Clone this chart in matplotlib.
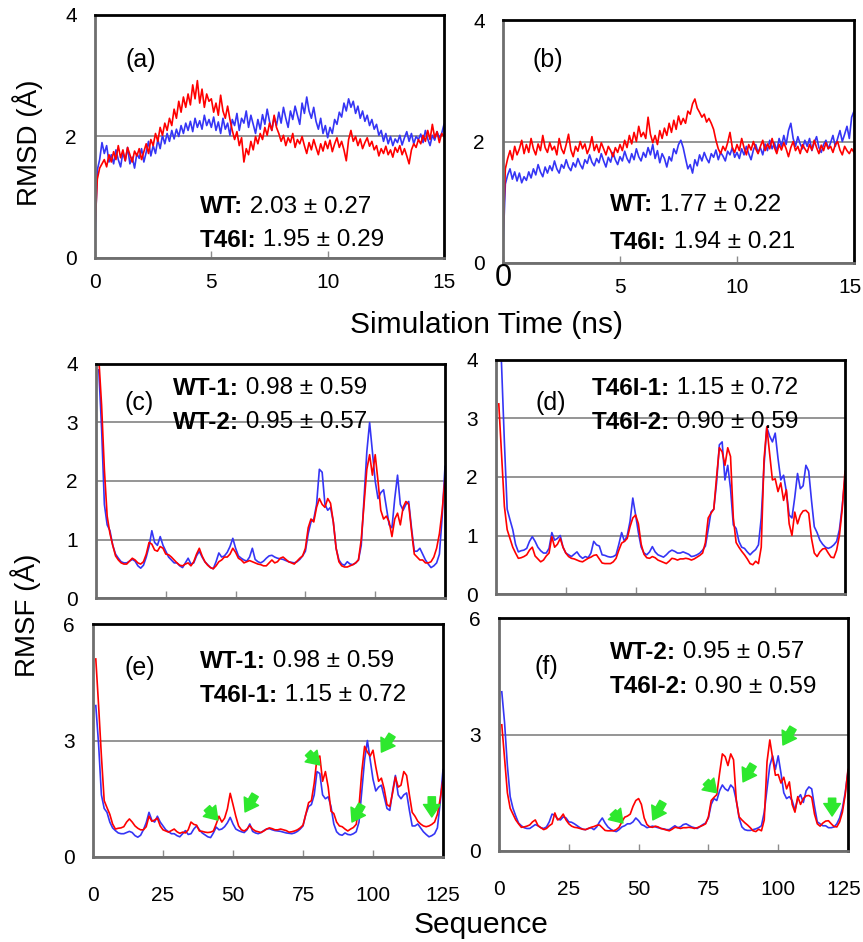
#!/usr/bin/env python3
"""RMSD / RMSF comparison of WT and T46I: six-panel figure."""

import numpy as np
import matplotlib

matplotlib.use("Agg")
import matplotlib.pyplot as plt
from matplotlib.transforms import offset_copy

plt.rcParams["font.family"] = ["Liberation Sans", "DejaVu Sans"]

BLUE = "#3535f5"
RED = "#ff0000"
GREEN = "#2ee82e"
GRID = "#8c8c8c"

# ---------------------------------------------------------------- RMSD data
# sampled every 0.1 ns, 0 .. 15 ns
time_ns = np.arange(151) * 0.1

rmsd_a_wt = [
    0.30, 1.45, 1.62, 1.90, 1.72, 1.85, 1.58, 1.70, 1.55, 1.78,
    1.62, 1.50, 1.74, 1.60, 1.82, 1.55, 1.66, 1.48, 1.72, 1.64,
    1.80, 1.58, 1.74, 1.92, 1.68, 1.85, 1.72, 1.95, 1.80, 2.02,
    1.88, 2.05, 1.92, 2.10, 1.96, 2.12, 2.00, 2.18, 2.05, 2.22,
    2.10, 2.25, 2.08, 2.30, 2.15, 2.26, 2.12, 2.35, 2.18, 2.28,
    2.15, 2.32, 2.10, 2.24, 2.05, 2.30, 2.12, 2.22, 2.02, 2.28,
    2.18, 2.38, 2.10, 2.30, 2.22, 2.42, 2.15, 2.35, 2.20, 2.05,
    2.28, 2.12, 2.36, 2.20, 2.45, 2.25, 2.10, 2.32, 2.18, 2.40,
    2.22, 2.48, 2.30, 2.15, 2.42, 2.28, 2.50, 2.35, 2.20, 2.55,
    2.38, 2.65, 2.42, 2.30, 2.48, 2.25, 2.12, 2.30, 2.05, 2.18,
    1.98, 2.15, 2.05, 2.28, 2.20, 2.40, 2.32, 2.55, 2.42, 2.62,
    2.48, 2.58, 2.38, 2.50, 2.30, 2.42, 2.25, 2.35, 2.18, 2.28,
    2.12, 2.20, 2.02, 2.10, 1.92, 2.05, 1.88, 2.00, 1.85, 1.96,
    1.90, 2.02, 1.86, 1.98, 2.08, 1.92, 2.05, 1.88, 2.00, 1.95,
    2.04, 1.90, 2.10, 1.96, 1.85, 2.02, 1.94, 2.08, 1.98, 2.05,
    2.20,
]
rmsd_a_t46i = [
    0.50, 1.30, 1.48, 1.55, 1.62, 1.50, 1.70, 1.58, 1.75, 1.62,
    1.85, 1.65, 1.78, 1.60, 1.82, 1.70, 1.58, 1.76, 1.68, 1.80,
    1.62, 1.75, 1.88, 1.72, 1.95, 1.85, 2.05, 1.92, 2.15, 2.02,
    2.22, 2.10, 2.30, 2.18, 2.45, 2.30, 2.58, 2.40, 2.65, 2.48,
    2.70, 2.52, 2.85, 2.62, 2.92, 2.55, 2.78, 2.48, 2.70, 2.58,
    2.62, 2.40, 2.55, 2.35, 2.68, 2.42, 2.30, 2.50, 2.28, 2.10,
    1.95, 2.08, 1.85, 1.98, 1.58, 1.80, 1.70, 1.92, 1.78, 2.00,
    1.88, 2.05, 1.95, 2.15, 2.02, 2.22, 2.10, 2.35, 2.15, 2.05,
    1.92, 2.02, 1.85, 1.98, 1.90, 2.05, 1.82, 1.95, 1.88, 2.00,
    1.85, 1.72, 1.90, 1.78, 1.95, 1.82, 1.70, 1.88, 1.76, 1.92,
    1.80, 1.94, 1.75, 1.88, 1.98, 1.82, 1.92, 1.78, 1.60, 1.95,
    2.10, 1.92, 2.00, 1.85, 1.96, 1.80, 1.90, 1.98, 1.84, 1.92,
    1.78, 1.85, 1.68, 1.80, 1.72, 1.84, 1.70, 1.78, 1.66, 1.82,
    1.74, 1.85, 1.70, 1.80, 1.68, 1.55, 1.78, 1.88, 1.82, 1.95,
    1.88, 2.02, 1.92, 2.10, 1.95, 2.20, 1.98, 2.08, 1.90, 2.05,
    2.00,
]
rmsd_b_wt = [
    0.25, 1.30, 1.45, 1.55, 1.38, 1.50, 1.35, 1.48, 1.32, 1.42,
    1.36, 1.50, 1.40, 1.55, 1.45, 1.62, 1.50, 1.42, 1.58, 1.48,
    1.60, 1.52, 1.68, 1.55, 1.48, 1.62, 1.56, 1.70, 1.58, 1.52,
    1.65, 1.58, 1.72, 1.62, 1.55, 1.70, 1.64, 1.78, 1.66, 1.60,
    1.72, 1.65, 1.80, 1.68, 1.58, 1.74, 1.66, 1.82, 1.70, 1.62,
    1.75, 1.68, 1.84, 1.72, 1.65, 1.80, 1.70, 1.88, 1.75, 1.68,
    1.82, 1.74, 1.90, 1.78, 1.95, 1.72, 1.85, 1.65, 1.80, 1.72,
    1.58, 1.75, 1.68, 1.88, 1.80, 1.95, 2.02, 1.90, 1.72, 1.55,
    1.62, 1.48, 1.70, 1.60, 1.78, 1.68, 1.82, 1.72, 1.65, 1.80,
    1.74, 1.86, 1.70, 1.82, 1.76, 1.68, 1.84, 1.78, 1.90, 1.74,
    1.82, 1.72, 1.88, 1.78, 1.92, 1.80, 1.70, 1.86, 1.95, 1.82,
    1.90, 1.78, 1.96, 1.85, 2.02, 1.88, 1.98, 1.84, 2.05, 1.92,
    2.10, 1.95, 2.18, 2.30, 2.05, 1.92, 2.08, 1.96, 1.88, 2.02,
    1.92, 2.05, 1.85, 1.98, 2.08, 1.90, 1.82, 1.95, 2.02, 1.88,
    1.98, 2.10, 1.92, 2.05, 2.18, 2.00, 2.12, 2.25, 2.05, 2.40,
    2.50,
]
rmsd_b_t46i = [
    0.45, 1.55, 1.72, 1.85, 1.70, 1.92, 1.78, 1.88, 2.02, 1.80,
    1.95, 1.82, 2.05, 1.88, 1.78, 1.96, 1.85, 2.10, 1.90, 1.82,
    1.98, 1.86, 1.92, 1.78, 2.05, 1.88, 1.80, 1.95, 2.12, 1.86,
    1.75, 1.92, 1.84, 2.00, 1.88, 1.96, 1.80, 1.90, 2.08, 1.85,
    1.95, 1.82, 1.98, 1.88, 1.78, 1.92, 1.85, 1.75, 1.90, 1.82,
    1.95, 1.85, 2.02, 1.90, 2.10, 1.96, 2.15, 2.00, 2.25, 2.08,
    2.15, 2.05, 2.40, 2.12, 1.98, 2.10, 1.95, 2.18, 2.05, 2.22,
    2.10, 2.30, 2.15, 2.35, 2.20, 2.42, 2.28, 2.38, 2.30, 2.50,
    2.45, 2.62, 2.70, 2.55, 2.48, 2.40, 2.45, 2.32, 2.38, 2.30,
    2.20, 2.02, 1.88, 1.80, 1.92, 1.85, 1.98, 2.15, 1.90, 1.82,
    1.95, 1.85, 2.05, 1.90, 1.78, 1.95, 1.86, 2.00, 1.88, 1.80,
    1.92, 2.02, 1.85, 1.96, 1.88, 2.05, 1.90, 1.80, 1.95, 1.86,
    1.98, 1.88, 1.75, 1.90, 2.00, 1.85, 1.92, 1.80, 1.95, 1.88,
    1.82, 1.95, 1.86, 2.02, 1.90, 1.80, 1.94, 1.85, 1.98, 1.88,
    1.92, 1.82, 1.95, 2.00, 1.86, 1.78, 1.92, 1.85, 1.80, 1.88,
    1.82,
]

# ---------------------------------------------------------------- RMSF data
residues = np.arange(1, 126)

rmsf_wt1 = [
    3.90, 2.90, 1.60, 1.25, 1.15, 0.90, 0.75, 0.68, 0.62, 0.60,
    0.60, 0.63, 0.66, 0.63, 0.55, 0.51, 0.56, 0.70, 0.88, 1.15,
    0.95, 0.90, 1.05, 0.90, 0.80, 0.70, 0.65, 0.60, 0.60, 0.55,
    0.52, 0.60, 0.68, 0.58, 0.60, 0.72, 0.80, 0.70, 0.62, 0.57,
    0.52, 0.50, 0.62, 0.77, 0.70, 0.72, 0.78, 0.88, 1.02, 0.85,
    0.72, 0.68, 0.65, 0.63, 0.70, 0.85, 0.66, 0.62, 0.60, 0.63,
    0.68, 0.72, 0.73, 0.70, 0.68, 0.67, 0.66, 0.64, 0.62, 0.61,
    0.60, 0.62, 0.66, 0.72, 0.80, 1.10, 1.30, 1.35, 1.60, 2.20,
    2.15, 1.60, 1.50, 1.55, 1.30, 0.85, 0.65, 0.58, 0.56, 0.62,
    0.58, 0.57, 0.60, 0.65, 0.90, 1.70, 2.50, 3.00, 2.50, 2.00,
    1.70, 1.80, 1.85, 1.55, 1.25, 1.20, 1.70, 2.10, 1.60, 1.50,
    1.60, 1.65, 1.20, 0.80, 0.80, 0.85, 0.75, 0.65, 0.58, 0.52,
    0.55, 0.60, 0.75, 1.40, 2.25,
]
rmsf_wt2 = [
    4.10, 3.30, 2.20, 1.40, 1.10, 0.90, 0.72, 0.65, 0.60, 0.58,
    0.58, 0.63, 0.68, 0.65, 0.60, 0.58, 0.62, 0.75, 0.95, 0.92,
    0.82, 0.80, 0.88, 0.85, 0.75, 0.74, 0.70, 0.65, 0.60, 0.56,
    0.55, 0.58, 0.60, 0.55, 0.62, 0.75, 0.85, 0.72, 0.62, 0.56,
    0.52, 0.50, 0.55, 0.62, 0.65, 0.70, 0.70, 0.75, 0.85, 0.78,
    0.68, 0.65, 0.60, 0.62, 0.64, 0.62, 0.60, 0.58, 0.57, 0.55,
    0.55, 0.60, 0.65, 0.60, 0.62, 0.68, 0.70, 0.66, 0.62, 0.60,
    0.58, 0.63, 0.68, 0.72, 0.85, 1.20, 1.35, 1.30, 1.55, 1.70,
    1.60, 1.55, 1.70, 1.62, 1.30, 0.85, 0.62, 0.55, 0.53, 0.53,
    0.55, 0.57, 0.60, 0.65, 1.00, 1.60, 2.20, 2.45, 2.10, 2.45,
    2.00, 1.50, 1.35, 1.40, 1.30, 1.05, 1.35, 1.45, 1.25, 1.55,
    1.65, 1.60, 1.15, 0.75, 0.70, 0.65, 0.65, 0.60, 0.60, 0.62,
    0.70, 0.85, 1.10, 1.50, 2.05,
]
rmsf_t46i1 = [
    5.10, 3.90, 2.60, 1.45, 1.27, 1.10, 0.85, 0.72, 0.74, 0.75,
    0.78, 0.90, 0.98, 0.90, 0.80, 0.74, 0.70, 0.70, 0.78, 1.05,
    0.92, 0.95, 1.00, 0.80, 0.70, 0.67, 0.64, 0.68, 0.72, 0.65,
    0.61, 0.64, 0.62, 0.70, 0.90, 0.84, 0.82, 0.67, 0.66, 0.64,
    0.63, 0.64, 0.67, 0.85, 1.05, 0.90, 1.00, 1.24, 1.64, 1.35,
    1.05, 0.80, 0.70, 0.67, 0.72, 0.81, 0.72, 0.67, 0.65, 0.63,
    0.67, 0.72, 0.75, 0.73, 0.70, 0.70, 0.72, 0.70, 0.68, 0.64,
    0.65, 0.67, 0.70, 0.75, 0.82, 1.10, 1.40, 1.45, 1.90, 2.55,
    2.60, 1.95, 2.20, 1.80, 1.18, 1.12, 0.90, 0.80, 0.78, 0.72,
    0.67, 0.72, 0.76, 0.84, 1.30, 2.20, 2.85, 2.70, 2.60, 2.75,
    2.32, 1.95, 2.03, 1.75, 1.35, 1.30, 1.65, 2.06, 1.80, 1.85,
    2.20, 2.10, 1.60, 1.15, 1.05, 0.92, 0.85, 0.80, 0.78, 0.80,
    0.84, 0.90, 1.10, 1.50, 2.00,
]
rmsf_t46i2 = [
    3.25, 2.38, 1.50, 1.10, 0.95, 0.80, 0.70, 0.61, 0.62, 0.64,
    0.67, 0.75, 0.80, 0.65, 0.60, 0.55, 0.58, 0.65, 0.70, 0.98,
    0.80, 0.85, 0.95, 0.80, 0.70, 0.64, 0.61, 0.60, 0.58, 0.56,
    0.55, 0.58, 0.61, 0.63, 0.66, 0.67, 0.60, 0.53, 0.52, 0.52,
    0.52, 0.55, 0.61, 0.75, 0.87, 0.90, 0.95, 1.15, 1.30, 1.35,
    1.20, 0.85, 0.68, 0.62, 0.61, 0.64, 0.62, 0.58, 0.56, 0.54,
    0.52, 0.56, 0.61, 0.60, 0.58, 0.60, 0.60, 0.61, 0.60, 0.58,
    0.60, 0.63, 0.66, 0.70, 0.88, 1.30, 1.38, 1.45, 2.00, 2.50,
    2.43, 2.20, 2.50, 2.35, 1.30, 0.88, 0.80, 0.73, 0.67, 0.60,
    0.52, 0.50, 0.56, 0.52, 0.80, 2.30, 2.86, 2.40, 1.95, 1.97,
    1.75, 1.90, 1.60, 1.78, 1.20, 1.00, 1.40, 1.20, 1.35, 1.42,
    1.43, 1.38, 0.95, 0.70, 0.64, 0.72, 0.77, 0.78, 0.70, 0.63,
    0.62, 0.75, 1.00, 1.45, 2.10,
]

# green arrows: (tail residue, tail value, tip residue, tip value)
arrows_e = [
    (40.7, 1.26, 44.6, 0.95),
    (57.9, 1.60, 54.3, 1.16),
    (76.8, 2.68, 81.0, 2.37),
    (96.0, 1.34, 92.5, 0.90),
    (106.8, 3.14, 103.0, 2.70),
    (121.0, 1.55, 121.0, 1.03),
]
arrows_f = [
    (40.8, 1.00, 44.4, 0.72),
    (58.7, 1.26, 55.1, 0.80),
    (74.1, 1.78, 78.0, 1.50),
    (91.0, 2.22, 87.4, 1.78),
    (105.3, 3.17, 101.7, 2.73),
    (119.3, 1.36, 119.3, 0.90),
]

FIG_W, FIG_H = 863, 942


def px_axes(fig, left, top, right, bottom):
    return fig.add_axes([left / FIG_W, 1 - bottom / FIG_H,
                         (right - left) / FIG_W, (bottom - top) / FIG_H])


def style(ax):
    ax.set_axisbelow(True)
    ax.yaxis.grid(True, color=GRID, linewidth=1.3)
    for side in ("top", "right"):
        ax.spines[side].set_color("black")
        ax.spines[side].set_linewidth(2.0)
    for side in ("left", "bottom"):
        ax.spines[side].set_color("#6e6e6e")
        ax.spines[side].set_linewidth(2.0)
    ax.tick_params(axis="y", length=0, pad=13, labelsize=15)
    ax.tick_params(axis="x", direction="in", length=5, width=1,
                   color="#8c8c8c", labelsize=15, pad=11)


def stat_text(ax, x, y, bold, rest):
    t = ax.text(x, y, bold, transform=ax.transAxes, fontsize=17.5,
                fontweight="bold", va="center", ha="left")
    ax.annotate(rest, xy=(1, 0.5), xycoords=t, fontsize=17.5,
                va="center", ha="left")


def nudge_last_xlabel(fig, ax, dx):
    last = ax.get_xticklabels()[-1]
    last.set_transform(offset_copy(last.get_transform(), fig=fig,
                                   x=dx, units="dots"))


def rmsd_panel(ax, wt, mut, tag, tag_xy, wt_txt, mut_txt, txt_xy):
    ax.plot(time_ns, wt, color=BLUE, linewidth=1.2)
    ax.plot(time_ns, mut, color=RED, linewidth=1.2)
    ax.set_xlim(0, 15)
    ax.set_ylim(0, 4)
    ax.set_xticks([0, 5, 10, 15])
    ax.set_yticks([0, 2, 4])
    style(ax)
    ax.text(*tag_xy, tag, transform=ax.transAxes, fontsize=18, va="center")
    stat_text(ax, txt_xy[0], txt_xy[1], "WT:", " " + wt_txt)
    stat_text(ax, txt_xy[0], txt_xy[2], "T46I:", " " + mut_txt)


def rmsf_panel(ax, s1, s2, ymax, yticks, tag, tag_xy, labels, txt_xy,
               show_x):
    ax.plot(residues, s1, color=BLUE, linewidth=1.2)
    ax.plot(residues, s2, color=RED, linewidth=1.2)
    ax.set_xlim(0, 125)
    ax.set_ylim(0, ymax)
    ax.set_yticks(yticks)
    style(ax)
    if show_x:
        ax.set_xticks([0, 25, 50, 75, 100, 125])
        ax.tick_params(axis="x", pad=21)
    else:
        ax.set_xticks([25, 50, 75, 100])
        ax.set_xticklabels([])
    ax.text(*tag_xy, tag, transform=ax.transAxes, fontsize=18, va="center")
    stat_text(ax, txt_xy[0], txt_xy[1], labels[0][0], " " + labels[0][1])
    stat_text(ax, txt_xy[0], txt_xy[2], labels[1][0], " " + labels[1][1])


def draw_arrows(ax, arrows):
    for x0, y0, x1, y1 in arrows:
        ax.annotate("", xy=(x1, y1), xytext=(x0, y0),
                    arrowprops=dict(arrowstyle="simple,head_length=0.6,"
                                    "head_width=0.8,tail_width=0.35",
                                    color=GREEN, mutation_scale=15,
                                    shrinkA=0, shrinkB=0))


def main():
    fig = plt.figure(figsize=(FIG_W / 100, FIG_H / 100), dpi=100)

    ax_a = px_axes(fig, 95, 15, 444, 258)
    ax_b = px_axes(fig, 503, 20, 854, 263)
    ax_c = px_axes(fig, 96, 364, 445, 598)
    ax_d = px_axes(fig, 496, 360, 845, 594)
    ax_e = px_axes(fig, 93, 624, 443, 857)
    ax_f = px_axes(fig, 499, 618, 848, 851)

    rmsd_panel(ax_a, rmsd_a_wt, rmsd_a_t46i, "(a)", (0.086, 0.815),
               "2.03 ± 0.27", "1.95 ± 0.29", (0.30, 0.21, 0.074))
    rmsd_panel(ax_b, rmsd_b_wt, rmsd_b_t46i, "(b)", (0.085, 0.835),
               "1.77 ± 0.22", "1.94 ± 0.21", (0.305, 0.24, 0.086))

    # panel (b): oversized zero, as in the original
    ax_b.set_xticklabels(["", "5", "10", "15"])
    ax_b.annotate("0", xy=(0, 0), xycoords=("data", "axes fraction"),
                  xytext=(0, 0), textcoords="offset points",
                  ha="center", va="top", fontsize=22)

    rmsf_panel(ax_c, rmsf_wt1, rmsf_wt2, 4, [0, 1, 2, 3, 4], "(c)",
               (0.083, 0.833),
               [("WT-1:", "0.98 ± 0.59"), ("WT-2:", "0.95 ± 0.57")],
               (0.22, 0.897, 0.752), False)
    rmsf_panel(ax_d, rmsf_t46i1, rmsf_t46i2, 4, [0, 1, 2, 3, 4], "(d)",
               (0.112, 0.816),
               [("T46I-1:", "1.15 ± 0.72"), ("T46I-2:", "0.90 ± 0.59")],
               (0.275, 0.88, 0.735), False)
    rmsf_panel(ax_e, rmsf_wt1, rmsf_t46i1, 6, [0, 3, 6], "(e)",
               (0.091, 0.81),
               [("WT-1:", "0.98 ± 0.59"), ("T46I-1:", "1.15 ± 0.72")],
               (0.306, 0.84, 0.695), True)
    rmsf_panel(ax_f, rmsf_wt2, rmsf_t46i2, 6, [0, 3, 6], "(f)",
               (0.103, 0.79),
               [("WT-2:", "0.95 ± 0.57"), ("T46I-2:", "0.90 ± 0.59")],
               (0.318, 0.854, 0.704), True)
    draw_arrows(ax_e, arrows_e)
    draw_arrows(ax_f, arrows_f)

    # keep the right-most labels inside the canvas
    nudge_last_xlabel(fig, ax_b, -4)
    nudge_last_xlabel(fig, ax_f, -4)

    fig.text(28 / FIG_W, 1 - 143 / FIG_H, "RMSD (Å)", rotation=90,
             fontsize=20, ha="center", va="center")
    fig.text(26 / FIG_W, 1 - 615 / FIG_H, "RMSF (Å)", rotation=90,
             fontsize=20, ha="center", va="center")
    fig.text(486 / FIG_W, 1 - 325 / FIG_H, "Simulation Time (ns)",
             fontsize=21.5, ha="center", va="center")
    fig.text(481 / FIG_W, 1 - 925 / FIG_H, "Sequence",
             fontsize=21.5, ha="center", va="center")

    fig.savefig("out.png", dpi=100)


if __name__ == "__main__":
    main()
